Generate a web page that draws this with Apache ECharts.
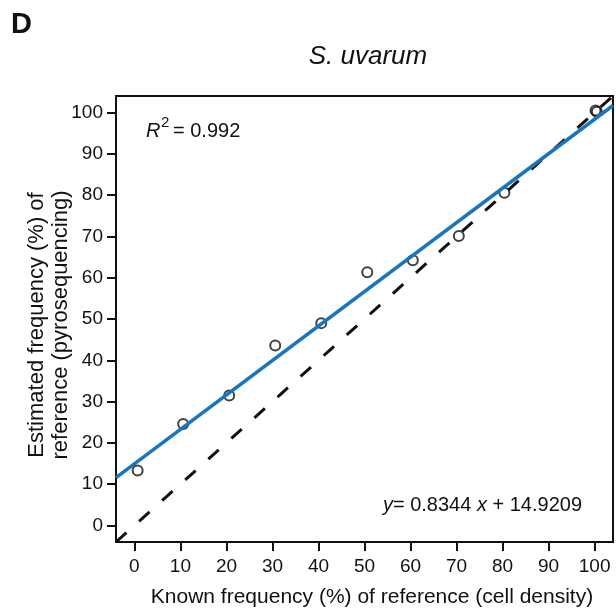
<!DOCTYPE html>
<html>
<head>
<meta charset="utf-8">
<script src="https://cdn.jsdelivr.net/npm/echarts@6/dist/echarts.min.js"></script>
<style>
  html, body { margin: 0; padding: 0; background: #fff; }
  #chart { width: 616px; height: 609px; }
</style>
</head>
<body>
<div id="chart"></div>
<script>
// Known vs estimated frequency of the reference strain (S. uvarum)
const knownFreq     = [0.7, 10.6, 20.6, 30.6, 40.6, 50.6, 60.5, 70.5, 80.4, 100.2, 100.5];
const estimatedFreq = [13.3, 24.6, 31.5, 43.6, 49.0, 61.3, 64.2, 70.1, 80.6, 100.5, 100.2];
const xTicks = [0, 10, 20, 30, 40, 50, 60, 70, 80, 90, 100];
const yTicks = [0, 10, 20, 30, 40, 50, 60, 70, 80, 90, 100];
const axisMin = -4, axisMax = 104;

// Fitted regression and R^2 as reported on the panel
const fitSlope = 0.8344;
const fitIntercept = 14.9209;
const rSquared = '0.992';

const FONT = '"Liberation Sans", Arial, Helvetica, sans-serif';
const INK = '#111';

const points = knownFreq.map((x, i) => [x, estimatedFreq[i]]);
const fitLine = [axisMin, axisMax].map(x => [x, fitSlope * x + fitIntercept]);
const identityLine = [axisMin, axisMax].map(x => [x, x]);

const chart = echarts.init(document.getElementById('chart'), null, { renderer: 'canvas' });

const axisCommon = {
  type: 'value',
  min: axisMin,
  max: axisMax,
  splitLine: { show: false },
  axisLine: { show: true, onZero: false, lineStyle: { color: INK, width: 2 } },
  axisTick: { show: true, inside: false, length: 9, lineStyle: { color: INK, width: 2 } },
  axisLabel: { color: INK, fontFamily: FONT, fontSize: 19 }
};

chart.setOption({
  animation: false,
  backgroundColor: '#fff',
  grid: {
    left: 116, top: 96, width: 497, height: 446,
    show: true, borderColor: INK, borderWidth: 2, backgroundColor: 'transparent'
  },
  xAxis: Object.assign({}, axisCommon, {
    axisTick: Object.assign({}, axisCommon.axisTick, { customValues: xTicks }),
    axisLabel: Object.assign({}, axisCommon.axisLabel, { customValues: xTicks, margin: 15 })
  }),
  yAxis: Object.assign({}, axisCommon, {
    axisTick: Object.assign({}, axisCommon.axisTick, { customValues: yTicks }),
    axisLabel: Object.assign({}, axisCommon.axisLabel, { customValues: yTicks, margin: 13 })
  }),
  series: [
    {
      type: 'scatter',
      data: points,
      symbol: 'circle',
      symbolSize: 10,
      z: 1,
      itemStyle: { color: 'rgba(0,0,0,0)', borderColor: INK, borderWidth: 2 }
    },
    {
      type: 'line',
      data: identityLine,
      showSymbol: false,
      clip: true,
      z: 2,
      lineStyle: { color: INK, width: 3, type: [14, 17], cap: 'butt' }
    },
    {
      type: 'line',
      data: fitLine,
      showSymbol: false,
      clip: true,
      z: 3,
      lineStyle: { color: '#1a75bc', width: 3.5 }
    }
  ],
  graphic: [
    { type: 'text', left: 11, top: 10,
      style: { text: 'D', font: 'bold 29px ' + FONT, fill: INK } },
    { type: 'text', x: 368, y: 57,
      style: { text: 'S. uvarum', font: 'italic 26px ' + FONT, fill: INK, align: 'center', verticalAlign: 'middle' } },
    // R^2 annotation
    { type: 'text', x: 146, y: 131,
      style: { text: 'R', font: 'italic 20px ' + FONT, fill: INK, verticalAlign: 'middle' } },
    { type: 'text', x: 161, y: 123,
      style: { text: '2', font: '15px ' + FONT, fill: INK, verticalAlign: 'middle' } },
    { type: 'text', x: 173, y: 131,
      style: { text: '= ' + rSquared, font: '20px ' + FONT, fill: INK, verticalAlign: 'middle' } },
    // regression equation
    { type: 'text', x: 582, y: 505,
      style: {
        text: '{i|y}{n|= ' + fitSlope + ' }{i|x}{n| + ' + fitIntercept + '}',
        align: 'right', verticalAlign: 'middle',
        rich: {
          i: { font: 'italic 20px ' + FONT, fill: INK },
          n: { font: '20px ' + FONT, fill: INK }
        }
      } },
    // axis titles
    { type: 'text', x: 372, y: 597,
      style: { text: 'Known frequency (%) of reference (cell density)', font: '21px ' + FONT, fill: INK, align: 'center', verticalAlign: 'middle' } },
    { type: 'text', x: 37, y: 325, rotation: Math.PI / 2,
      style: { text: 'Estimated frequency (%) of', font: '22px ' + FONT, fill: INK, align: 'center', verticalAlign: 'middle' } },
    { type: 'text', x: 61, y: 325, rotation: Math.PI / 2,
      style: { text: 'reference (pyrosequencing)', font: '22px ' + FONT, fill: INK, align: 'center', verticalAlign: 'middle' } }
  ]
});
</script>
</body>
</html>
